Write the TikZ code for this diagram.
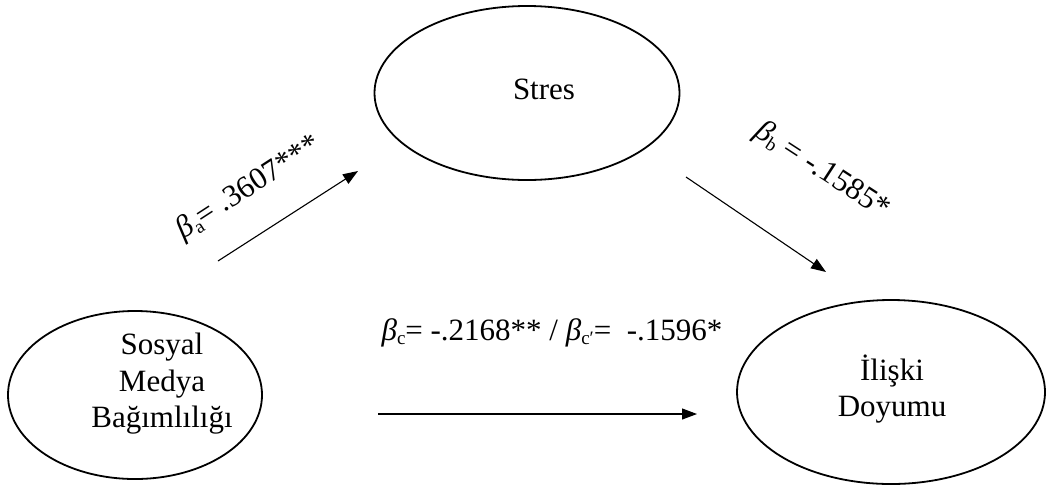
\documentclass[tikz,border=0pt]{standalone}
\usepackage{fontspec}
\setmainfont{Liberation Serif}
\usetikzlibrary{shapes.geometric,arrows.meta}
\newcommand{\lsub}[1]{\raisebox{-0.3ex}{\fontsize{19}{19}\selectfont #1}}
\tikzset{
  var/.style={draw, line width=1.8pt, ellipse, inner sep=0pt},
  vartext/.style={align=center, inner sep=0pt, font=\fontsize{31}{36.5}\selectfont},
  path/.style={line width=1.1pt, -{Triangle[length=15pt,width=11pt]}},
  coef/.style={font=\fontsize{31}{35}\selectfont, inner sep=0pt}
}
\begin{document}
\begin{tikzpicture}[x=1pt,y=-1pt]
\useasboundingbox (0,0) rectangle (1048,488);
\node[var, minimum width=305pt, minimum height=174pt] (stres) at (527,93) {};
\node[var, minimum width=254pt, minimum height=168pt] (smb) at (135,395) {};
\node[var, minimum width=308pt, minimum height=184pt] (id) at (891,392) {};
\node[vartext] (tstres) at (544,89) {Stres};
\node[vartext] (tsmb) at (162,384) {Sosyal\\Medya\\Bağımlılığı};
\node[vartext] (tid) at (892,389) {İlişki\\Doyumu};
\coordinate (a1) at (218,261);
\coordinate (a2) at (358,171);
\coordinate (b1) at (686,177);
\coordinate (b2) at (826,272);
\coordinate (c1) at (378,414);
\coordinate (c2) at (697,414);
\draw[path] (a1) -- (a2);
\draw[path] (b1) -- (b2);
\draw[path] (c1) -- (c2);
\node[coef, rotate=33] (la) at (249,188) {\textit{β}\lsub{a}= .3607***};
\node[coef, rotate=-33] (lb) at (822,171) {\textit{β}\lsub{b} = -.1585*};
\node[coef, anchor=base] (lc) at (552,340) {\textit{β}\lsub{c}= -.2168** / \textit{β}\lsub{c′}=\ \ -.1596*};
\end{tikzpicture}
\end{document}
